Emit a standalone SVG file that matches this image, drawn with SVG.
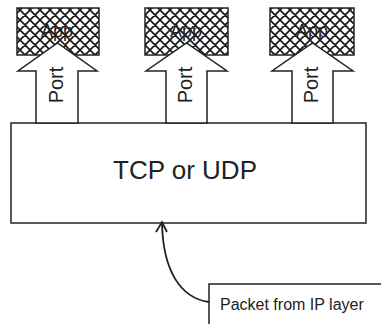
<svg xmlns="http://www.w3.org/2000/svg" width="381" height="324" viewBox="0 0 381 324">
<defs>
<pattern id="hatch" width="10" height="10" patternUnits="userSpaceOnUse">
<rect width="10" height="10" fill="#fff"/>
<path d="M-1,1 L1,-1 M0,10 L10,0 M9,11 L11,9 M-1,9 L1,11 M0,0 L10,10 M9,-1 L11,1" stroke="#1a1a1a" stroke-width="1.7"/>
</pattern>
<style>
.box{fill:#fff;stroke:#222;stroke-width:1.5}
.app{fill:url(#hatch);stroke:#222;stroke-width:1.5}
.port{fill:#fff;stroke:#222;stroke-width:1.5;stroke-linejoin:miter}
.t{font-family:"Liberation Sans",Arial,sans-serif;fill:#222}
.conn{fill:none;stroke:#222;stroke-width:1.8}
</style>
</defs>
<rect width="381" height="324" fill="#fff"/>
<g id="tcp">
<rect class="box" x="11" y="123" width="355" height="100"/>
<text class="t" x="185" y="179" font-size="26" text-anchor="middle">TCP or UDP</text>
</g>
<g id="app1">
<rect class="app" x="17" y="8" width="82" height="47"/>
<text class="t" x="57" y="37" font-size="18" text-anchor="middle">App</text>
</g>
<g id="app2">
<rect class="app" x="145" y="8" width="83" height="47"/>
<text class="t" x="186" y="37" font-size="18" text-anchor="middle">App</text>
</g>
<g id="app3">
<rect class="app" x="270" y="8" width="84" height="47"/>
<text class="t" x="312" y="37" font-size="18" text-anchor="middle">App</text>
</g>
<g id="port1">
<polygon class="port" points="36,123 36,71 18,71 57.5,43 97,71 78,71 78,123"/>
<text class="t" transform="translate(63,85) rotate(-90)" font-size="20" text-anchor="middle">Port</text>
</g>
<g id="port2">
<polygon class="port" points="166,123 166,71 146,71 186.5,43 227,71 207,71 207,123"/>
<text class="t" transform="translate(192,85) rotate(-90)" font-size="20" text-anchor="middle">Port</text>
</g>
<g id="port3">
<polygon class="port" points="292,123 292,71 272,71 312.5,43 353,71 333,71 333,123"/>
<text class="t" transform="translate(318,85) rotate(-90)" font-size="20" text-anchor="middle">Port</text>
</g>
<g id="packet">
<rect class="box" x="209" y="284" width="180" height="50"/>
<text class="t" x="220" y="310" font-size="16">Packet from IP layer</text>
</g>
<g id="connectors">
<path class="conn" d="M209,302 C180,298 163,270 162,223"/>
<path class="conn" d="M156,232 L162,222 L167,232"/>
</g>
</svg>
